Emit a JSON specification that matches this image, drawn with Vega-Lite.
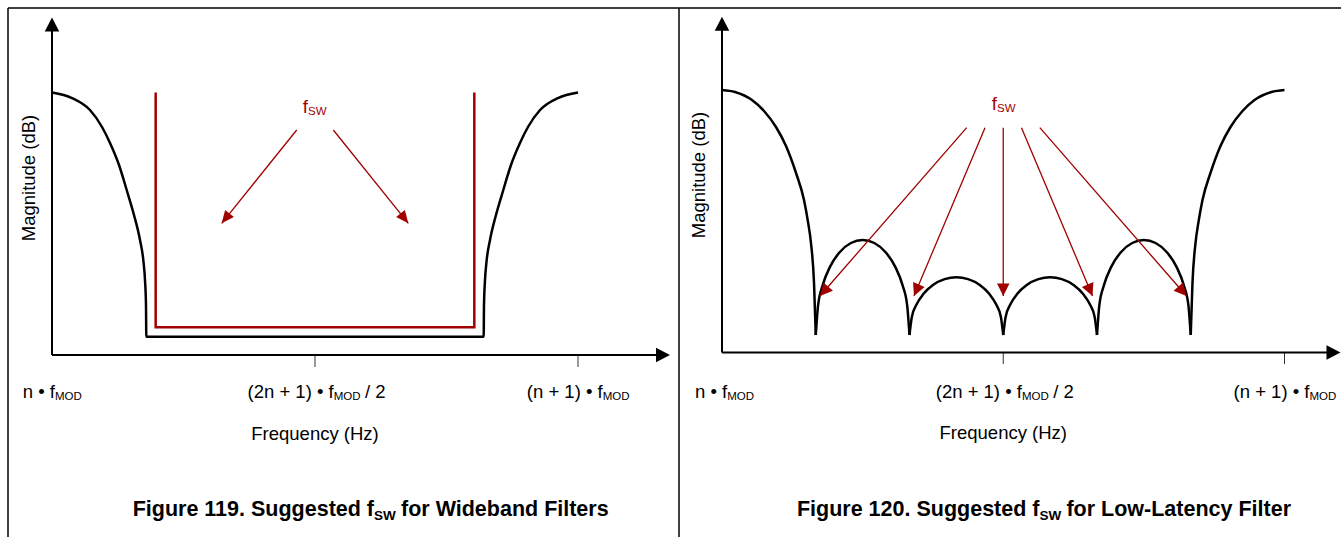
{
  "$schema": "https://vega.github.io/schema/vega-lite/v6.json",
  "padding": {"left": 7, "top": 7, "right": 0, "bottom": 0},
  "spacing": 0,
  "bounds": "flush",
  "background": "white",
  "config": {"view": {"stroke": null}, "font": "Liberation Sans"},
  "datasets": {
    "guides119": [
      {"part": "frame", "f": -0.08365, "m": 1.3219, "f2": 1.19202, "m2": 1.3219},
      {"part": "frame", "f": -0.08365, "m": 1.3219, "f2": -0.08365, "m2": -0.6933},
      {"part": "axis", "f": 0, "m": 0, "f2": 0, "m2": 1.25},
      {"part": "axis", "f": 0, "m": 0, "f2": 1.156, "m2": 0},
      {"part": "tick", "f": 0.5, "m": 0, "f2": 0.5, "m2": -0.0457},
      {"part": "tick", "f": 1, "m": 0, "f2": 1, "m2": -0.0457}
    ],
    "heads119": [
      {"f": 0, "m": 1.2857, "heading": 0},
      {"f": 1.1749, "m": 0, "heading": 90}
    ],
    "curve119": [
      {"f": 0, "m": 1.0}, {"f": 0.038, "m": 0.979}, {"f": 0.0722, "m": 0.9333},
      {"f": 0.0951, "m": 0.8686}, {"f": 0.1103, "m": 0.8076}, {"f": 0.1274, "m": 0.7238},
      {"f": 0.142, "m": 0.6286}, {"f": 0.1559, "m": 0.5333}, {"f": 0.1673, "m": 0.4381},
      {"f": 0.174, "m": 0.3543}, {"f": 0.1768, "m": 0.2857}, {"f": 0.1787, "m": 0.1905},
      {"f": 0.1793, "m": 0.0697}, {"f": 0.8207, "m": 0.0697}, {"f": 0.8213, "m": 0.1905},
      {"f": 0.8232, "m": 0.2857}, {"f": 0.826, "m": 0.3543}, {"f": 0.8327, "m": 0.4381},
      {"f": 0.8441, "m": 0.5333}, {"f": 0.858, "m": 0.6286}, {"f": 0.8726, "m": 0.7238},
      {"f": 0.8897, "m": 0.8076}, {"f": 0.9049, "m": 0.8686}, {"f": 0.9278, "m": 0.9333},
      {"f": 0.962, "m": 0.979}, {"f": 1.0, "m": 1.0}
    ],
    "band119": [
      {"o": 1, "f": 0.1971, "m": 1.0},
      {"o": 2, "f": 0.1971, "m": 0.1055},
      {"o": 3, "f": 0.8029, "m": 0.1055},
      {"o": 4, "f": 0.8029, "m": 1.0}
    ],
    "arrows119": [
      {"f": 0.4652, "m": 0.8571, "f2": 0.3226, "m2": 0.5017, "heading": 218.8},
      {"f": 0.5348, "m": 0.8571, "f2": 0.6774, "m2": 0.5017, "heading": 141.2}
    ],
    "text119": [
      {"piece": "lead", "f": 0.0055, "m": -0.1638, "text": "n • f"},
      {"piece": "sub", "f": 0.0055, "m": -0.1638, "text": "MOD"},
      {"piece": "lead", "f": 0.5356, "m": -0.1638, "text": "(2n + 1) • f"},
      {"piece": "sub", "f": 0.5356, "m": -0.1638, "text": "MOD"},
      {"piece": "tail", "f": 0.5951, "m": -0.1638, "text": "/ 2"},
      {"piece": "lead", "f": 1.047, "m": -0.1638, "text": "(n + 1) • f"},
      {"piece": "sub", "f": 1.047, "m": -0.1638, "text": "MOD"},
      {"piece": "center", "f": 0.5, "m": -0.3238, "text": "Frequency (Hz)"},
      {"piece": "ylabel", "f": -0.0329, "m": 0.6743, "text": "Magnitude (dB)"},
      {"piece": "titleLead", "f": 0.6122, "m": -0.6133, "text": "Figure 119. Suggested f"},
      {"piece": "titleSub", "f": 0.6122, "m": -0.6133, "text": "SW"},
      {"piece": "titleTail", "f": 0.6635, "m": -0.6133, "text": "for Wideband Filters"},
      {"piece": "fswLead", "f": 0.4867, "m": 0.9208, "text": "f"},
      {"piece": "fswSub", "f": 0.4867, "m": 0.9208, "text": "SW"}
    ],
    "guides120": [
      {"part": "frame", "f": -0.076444, "m": 1.3124, "f2": 1.100444, "m2": 1.3124},
      {"part": "frame", "f": -0.076444, "m": 1.3124, "f2": -0.076444, "m2": -0.7029},
      {"part": "axis", "f": 0, "m": 0, "f2": 0, "m2": 1.2438},
      {"part": "axis", "f": 0, "m": 0, "f2": 1.0809, "m2": 0},
      {"part": "tick", "f": 0.5, "m": 0, "f2": 0.5, "m2": -0.0438},
      {"part": "tick", "f": 1, "m": 0, "f2": 1, "m2": -0.0438}
    ],
    "heads120": [
      {"f": 0, "m": 1.2792, "heading": 0},
      {"f": 1.0996, "m": 0, "heading": 90}
    ],
    "curve120": [
      {"lobe": 0, "f": 0, "m": 1.0}, {"lobe": 0, "f": 0.0231, "m": 0.9924}, {"lobe": 0, "f": 0.0533, "m": 0.9619},
      {"lobe": 0, "f": 0.0747, "m": 0.92}, {"lobe": 0, "f": 0.096, "m": 0.859}, {"lobe": 0, "f": 0.1138, "m": 0.7867},
      {"lobe": 0, "f": 0.1316, "m": 0.6838}, {"lobe": 0, "f": 0.1458, "m": 0.581}, {"lobe": 0, "f": 0.1529, "m": 0.4971},
      {"lobe": 0, "f": 0.1582, "m": 0.4171}, {"lobe": 0, "f": 0.1636, "m": 0.2648}, {"lobe": 0, "f": 0.1667, "m": 0.0667},
      {"lobe": 1, "f": 0.1667, "m": 0.0667}, {"lobe": 1, "f": 0.1708, "m": 0.1797}, {"lobe": 1, "f": 0.1792, "m": 0.2575},
      {"lobe": 1, "f": 0.1917, "m": 0.3252}, {"lobe": 1, "f": 0.2083, "m": 0.3802}, {"lobe": 1, "f": 0.2292, "m": 0.4171},
      {"lobe": 1, "f": 0.25, "m": 0.4286}, {"lobe": 1, "f": 0.2708, "m": 0.4171}, {"lobe": 1, "f": 0.2917, "m": 0.3802},
      {"lobe": 1, "f": 0.3083, "m": 0.3252}, {"lobe": 1, "f": 0.3208, "m": 0.2575}, {"lobe": 1, "f": 0.3292, "m": 0.1797},
      {"lobe": 1, "f": 0.3333, "m": 0.0667},
      {"lobe": 2, "f": 0.3333, "m": 0.0667}, {"lobe": 2, "f": 0.3375, "m": 0.1353}, {"lobe": 2, "f": 0.3458, "m": 0.1825},
      {"lobe": 2, "f": 0.3583, "m": 0.2236}, {"lobe": 2, "f": 0.375, "m": 0.257}, {"lobe": 2, "f": 0.3958, "m": 0.2795},
      {"lobe": 2, "f": 0.4167, "m": 0.2865}, {"lobe": 2, "f": 0.4375, "m": 0.2795}, {"lobe": 2, "f": 0.4583, "m": 0.257},
      {"lobe": 2, "f": 0.475, "m": 0.2236}, {"lobe": 2, "f": 0.4875, "m": 0.1825}, {"lobe": 2, "f": 0.4958, "m": 0.1353},
      {"lobe": 2, "f": 0.5, "m": 0.0667},
      {"lobe": 3, "f": 0.5, "m": 0.0667}, {"lobe": 3, "f": 0.5042, "m": 0.1353}, {"lobe": 3, "f": 0.5125, "m": 0.1825},
      {"lobe": 3, "f": 0.525, "m": 0.2236}, {"lobe": 3, "f": 0.5417, "m": 0.257}, {"lobe": 3, "f": 0.5625, "m": 0.2795},
      {"lobe": 3, "f": 0.5833, "m": 0.2865}, {"lobe": 3, "f": 0.6042, "m": 0.2795}, {"lobe": 3, "f": 0.625, "m": 0.257},
      {"lobe": 3, "f": 0.6417, "m": 0.2236}, {"lobe": 3, "f": 0.6542, "m": 0.1825}, {"lobe": 3, "f": 0.6625, "m": 0.1353},
      {"lobe": 3, "f": 0.6667, "m": 0.0667},
      {"lobe": 4, "f": 0.6667, "m": 0.0667}, {"lobe": 4, "f": 0.6708, "m": 0.1797}, {"lobe": 4, "f": 0.6792, "m": 0.2575},
      {"lobe": 4, "f": 0.6917, "m": 0.3252}, {"lobe": 4, "f": 0.7083, "m": 0.3802}, {"lobe": 4, "f": 0.7292, "m": 0.4171},
      {"lobe": 4, "f": 0.75, "m": 0.4286}, {"lobe": 4, "f": 0.7708, "m": 0.4171}, {"lobe": 4, "f": 0.7917, "m": 0.3802},
      {"lobe": 4, "f": 0.8083, "m": 0.3252}, {"lobe": 4, "f": 0.8208, "m": 0.2575}, {"lobe": 4, "f": 0.8292, "m": 0.1797},
      {"lobe": 4, "f": 0.8333, "m": 0.0667},
      {"lobe": 5, "f": 0.8333, "m": 0.0667}, {"lobe": 5, "f": 0.8364, "m": 0.2648}, {"lobe": 5, "f": 0.8418, "m": 0.4171},
      {"lobe": 5, "f": 0.8471, "m": 0.4971}, {"lobe": 5, "f": 0.8542, "m": 0.581}, {"lobe": 5, "f": 0.8684, "m": 0.6838},
      {"lobe": 5, "f": 0.8862, "m": 0.7867}, {"lobe": 5, "f": 0.904, "m": 0.859}, {"lobe": 5, "f": 0.9253, "m": 0.92},
      {"lobe": 5, "f": 0.9467, "m": 0.9619}, {"lobe": 5, "f": 0.9769, "m": 0.9924}, {"lobe": 5, "f": 1.0, "m": 1.0}
    ],
    "arrows120": [
      {"f": 0.435, "m": 0.8564, "f2": 0.1742, "m2": 0.2152, "heading": 221.1},
      {"f": 0.4676, "m": 0.8564, "f2": 0.3413, "m2": 0.2152, "heading": 202.9},
      {"f": 0.5, "m": 0.8564, "f2": 0.5, "m2": 0.2152, "heading": 180},
      {"f": 0.5324, "m": 0.8564, "f2": 0.6587, "m2": 0.2152, "heading": 157.1},
      {"f": 0.565, "m": 0.8564, "f2": 0.8258, "m2": 0.2152, "heading": 138.9}
    ],
    "text120": [
      {"piece": "lead", "f": 0.0092, "m": -0.1722, "text": "n • f"},
      {"piece": "sub", "f": 0.0092, "m": -0.1722, "text": "MOD"},
      {"piece": "lead", "f": 0.5332, "m": -0.1722, "text": "(2n + 1) • f"},
      {"piece": "sub", "f": 0.5332, "m": -0.1722, "text": "MOD"},
      {"piece": "tail", "f": 0.5889, "m": -0.1722, "text": "/ 2"},
      {"piece": "lead", "f": 1.0444, "m": -0.1722, "text": "(n + 1) • f"},
      {"piece": "sub", "f": 1.0444, "m": -0.1722, "text": "MOD"},
      {"piece": "center", "f": 0.5, "m": -0.3307, "text": "Frequency (Hz)"},
      {"piece": "ylabel", "f": -0.0302, "m": 0.6762, "text": "Magnitude (dB)"},
      {"piece": "titleLead", "f": 0.5644, "m": -0.6229, "text": "Figure 120. Suggested f"},
      {"piece": "titleSub", "f": 0.5644, "m": -0.6229, "text": "SW"},
      {"piece": "titleTail", "f": 0.6123, "m": -0.6229, "text": "for Low-Latency Filter"},
      {"piece": "fswLead", "f": 0.4889, "m": 0.9238, "text": "f"},
      {"piece": "fswSub", "f": 0.4889, "m": 0.9238, "text": "SW"}
    ]
  },
  "hconcat": [
    {
      "width": 671,
      "height": 529,
      "encoding": {
        "x": {"field": "f", "type": "quantitative", "scale": {"domain": [-0.08365, 1.19202], "nice": false, "zero": false}, "axis": null},
        "y": {"field": "m", "type": "quantitative", "scale": {"domain": [-0.6933, 1.3219], "nice": false, "zero": false}, "axis": null}
      },
      "layer": [
        {"data": {"name": "guides119"}, "transform": [{"filter": "datum.part == 'frame'"}], "mark": {"type": "rule", "color": "black", "strokeWidth": 1.5}, "encoding": {"x2": {"field": "f2"}, "y2": {"field": "m2"}}},
        {"data": {"name": "guides119"}, "transform": [{"filter": "datum.part == 'tick'"}], "mark": {"type": "rule", "color": "#333333", "strokeWidth": 1}, "encoding": {"x2": {"field": "f2"}, "y2": {"field": "m2"}}},
        {"data": {"name": "guides119"}, "transform": [{"filter": "datum.part == 'axis'"}], "mark": {"type": "rule", "color": "black", "strokeWidth": 2}, "encoding": {"x2": {"field": "f2"}, "y2": {"field": "m2"}}},
        {"data": {"name": "heads119"}, "mark": {"type": "point", "shape": "M0,0L0.52,1L-0.52,1Z", "filled": true, "size": 784, "color": "black", "opacity": 1, "strokeWidth": 0}, "encoding": {"angle": {"field": "heading", "type": "quantitative", "scale": null}}},
        {"data": {"name": "band119"}, "mark": {"type": "line", "color": "#a00000", "strokeWidth": 2.5}, "encoding": {"order": {"field": "o", "type": "quantitative"}}},
        {"data": {"name": "curve119"}, "mark": {"type": "line", "color": "black", "strokeWidth": 2.5, "interpolate": "monotone"}},
        {"data": {"name": "arrows119"}, "mark": {"type": "rule", "color": "#a00000", "strokeWidth": 1.3}, "encoding": {"x2": {"field": "f2"}, "y2": {"field": "m2"}}},
        {"data": {"name": "arrows119"}, "mark": {"type": "point", "shape": "M0,0L0.45,1L-0.45,1Z", "filled": true, "size": 625, "color": "#a00000", "opacity": 1, "strokeWidth": 0}, "encoding": {"x": {"field": "f2", "type": "quantitative"}, "y": {"field": "m2", "type": "quantitative"}, "angle": {"field": "heading", "type": "quantitative", "scale": null}}},
        {"data": {"name": "text119"}, "transform": [{"filter": "datum.piece == 'lead'"}], "mark": {"type": "text", "align": "right", "baseline": "alphabetic", "fontSize": 18.5, "color": "black"}, "encoding": {"text": {"field": "text"}}},
        {"data": {"name": "text119"}, "transform": [{"filter": "datum.piece == 'sub'"}], "mark": {"type": "text", "align": "left", "baseline": "alphabetic", "fontSize": 11.5, "dy": 2, "color": "black"}, "encoding": {"text": {"field": "text"}}},
        {"data": {"name": "text119"}, "transform": [{"filter": "datum.piece == 'tail'"}], "mark": {"type": "text", "align": "left", "baseline": "alphabetic", "fontSize": 18.5, "color": "black"}, "encoding": {"text": {"field": "text"}}},
        {"data": {"name": "text119"}, "transform": [{"filter": "datum.piece == 'center'"}], "mark": {"type": "text", "align": "center", "baseline": "alphabetic", "fontSize": 18.5, "color": "black"}, "encoding": {"text": {"field": "text"}}},
        {"data": {"name": "text119"}, "transform": [{"filter": "datum.piece == 'ylabel'"}], "mark": {"type": "text", "align": "center", "baseline": "alphabetic", "angle": 270, "fontSize": 18.5, "color": "black"}, "encoding": {"text": {"field": "text"}}},
        {"data": {"name": "text119"}, "transform": [{"filter": "datum.piece == 'titleLead'"}], "mark": {"type": "text", "align": "right", "baseline": "alphabetic", "fontSize": 21.5, "fontWeight": "bold", "color": "black"}, "encoding": {"text": {"field": "text"}}},
        {"data": {"name": "text119"}, "transform": [{"filter": "datum.piece == 'titleSub'"}], "mark": {"type": "text", "align": "left", "baseline": "alphabetic", "fontSize": 13.5, "dy": 4, "fontWeight": "bold", "color": "black"}, "encoding": {"text": {"field": "text"}}},
        {"data": {"name": "text119"}, "transform": [{"filter": "datum.piece == 'titleTail'"}], "mark": {"type": "text", "align": "left", "baseline": "alphabetic", "fontSize": 21.5, "fontWeight": "bold", "color": "black"}, "encoding": {"text": {"field": "text"}}},
        {"data": {"name": "text119"}, "transform": [{"filter": "datum.piece == 'fswLead'"}], "mark": {"type": "text", "align": "right", "baseline": "alphabetic", "fontSize": 18.5, "color": "#a00000"}, "encoding": {"text": {"field": "text"}}},
        {"data": {"name": "text119"}, "transform": [{"filter": "datum.piece == 'fswSub'"}], "mark": {"type": "text", "align": "left", "baseline": "alphabetic", "fontSize": 11.5, "dy": 2, "color": "#a00000"}, "encoding": {"text": {"field": "text"}}}
      ]
    },
    {
      "width": 662,
      "height": 529,
      "encoding": {
        "x": {"field": "f", "type": "quantitative", "scale": {"domain": [-0.076444, 1.100444], "nice": false, "zero": false}, "axis": null},
        "y": {"field": "m", "type": "quantitative", "scale": {"domain": [-0.7029, 1.3124], "nice": false, "zero": false}, "axis": null}
      },
      "layer": [
        {"data": {"name": "guides120"}, "transform": [{"filter": "datum.part == 'frame'"}], "mark": {"type": "rule", "color": "black", "strokeWidth": 1.5}, "encoding": {"x2": {"field": "f2"}, "y2": {"field": "m2"}}},
        {"data": {"name": "guides120"}, "transform": [{"filter": "datum.part == 'tick'"}], "mark": {"type": "rule", "color": "#333333", "strokeWidth": 1}, "encoding": {"x2": {"field": "f2"}, "y2": {"field": "m2"}}},
        {"data": {"name": "guides120"}, "transform": [{"filter": "datum.part == 'axis'"}], "mark": {"type": "rule", "color": "black", "strokeWidth": 2}, "encoding": {"x2": {"field": "f2"}, "y2": {"field": "m2"}}},
        {"data": {"name": "heads120"}, "mark": {"type": "point", "shape": "M0,0L0.52,1L-0.52,1Z", "filled": true, "size": 784, "color": "black", "opacity": 1, "strokeWidth": 0}, "encoding": {"angle": {"field": "heading", "type": "quantitative", "scale": null}}},
        {"data": {"name": "curve120"}, "mark": {"type": "line", "color": "black", "strokeWidth": 2.5, "interpolate": "monotone"}, "encoding": {"detail": {"field": "lobe", "type": "nominal"}}},
        {"data": {"name": "arrows120"}, "mark": {"type": "rule", "color": "#a00000", "strokeWidth": 1.3}, "encoding": {"x2": {"field": "f2"}, "y2": {"field": "m2"}}},
        {"data": {"name": "arrows120"}, "mark": {"type": "point", "shape": "M0,0L0.5,1L-0.5,1Z", "filled": true, "size": 625, "color": "#a00000", "opacity": 1, "strokeWidth": 0}, "encoding": {"x": {"field": "f2", "type": "quantitative"}, "y": {"field": "m2", "type": "quantitative"}, "angle": {"field": "heading", "type": "quantitative", "scale": null}}},
        {"data": {"name": "text120"}, "transform": [{"filter": "datum.piece == 'lead'"}], "mark": {"type": "text", "align": "right", "baseline": "alphabetic", "fontSize": 18.5, "color": "black"}, "encoding": {"text": {"field": "text"}}},
        {"data": {"name": "text120"}, "transform": [{"filter": "datum.piece == 'sub'"}], "mark": {"type": "text", "align": "left", "baseline": "alphabetic", "fontSize": 11.5, "dy": 2, "color": "black"}, "encoding": {"text": {"field": "text"}}},
        {"data": {"name": "text120"}, "transform": [{"filter": "datum.piece == 'tail'"}], "mark": {"type": "text", "align": "left", "baseline": "alphabetic", "fontSize": 18.5, "color": "black"}, "encoding": {"text": {"field": "text"}}},
        {"data": {"name": "text120"}, "transform": [{"filter": "datum.piece == 'center'"}], "mark": {"type": "text", "align": "center", "baseline": "alphabetic", "fontSize": 18.5, "color": "black"}, "encoding": {"text": {"field": "text"}}},
        {"data": {"name": "text120"}, "transform": [{"filter": "datum.piece == 'ylabel'"}], "mark": {"type": "text", "align": "center", "baseline": "alphabetic", "angle": 270, "fontSize": 18.5, "color": "black"}, "encoding": {"text": {"field": "text"}}},
        {"data": {"name": "text120"}, "transform": [{"filter": "datum.piece == 'titleLead'"}], "mark": {"type": "text", "align": "right", "baseline": "alphabetic", "fontSize": 21.5, "fontWeight": "bold", "color": "black"}, "encoding": {"text": {"field": "text"}}},
        {"data": {"name": "text120"}, "transform": [{"filter": "datum.piece == 'titleSub'"}], "mark": {"type": "text", "align": "left", "baseline": "alphabetic", "fontSize": 13.5, "dy": 4, "fontWeight": "bold", "color": "black"}, "encoding": {"text": {"field": "text"}}},
        {"data": {"name": "text120"}, "transform": [{"filter": "datum.piece == 'titleTail'"}], "mark": {"type": "text", "align": "left", "baseline": "alphabetic", "fontSize": 21.5, "fontWeight": "bold", "color": "black"}, "encoding": {"text": {"field": "text"}}},
        {"data": {"name": "text120"}, "transform": [{"filter": "datum.piece == 'fswLead'"}], "mark": {"type": "text", "align": "right", "baseline": "alphabetic", "fontSize": 18.5, "color": "#a00000"}, "encoding": {"text": {"field": "text"}}},
        {"data": {"name": "text120"}, "transform": [{"filter": "datum.piece == 'fswSub'"}], "mark": {"type": "text", "align": "left", "baseline": "alphabetic", "fontSize": 11.5, "dy": 2, "color": "#a00000"}, "encoding": {"text": {"field": "text"}}}
      ]
    }
  ]
}
